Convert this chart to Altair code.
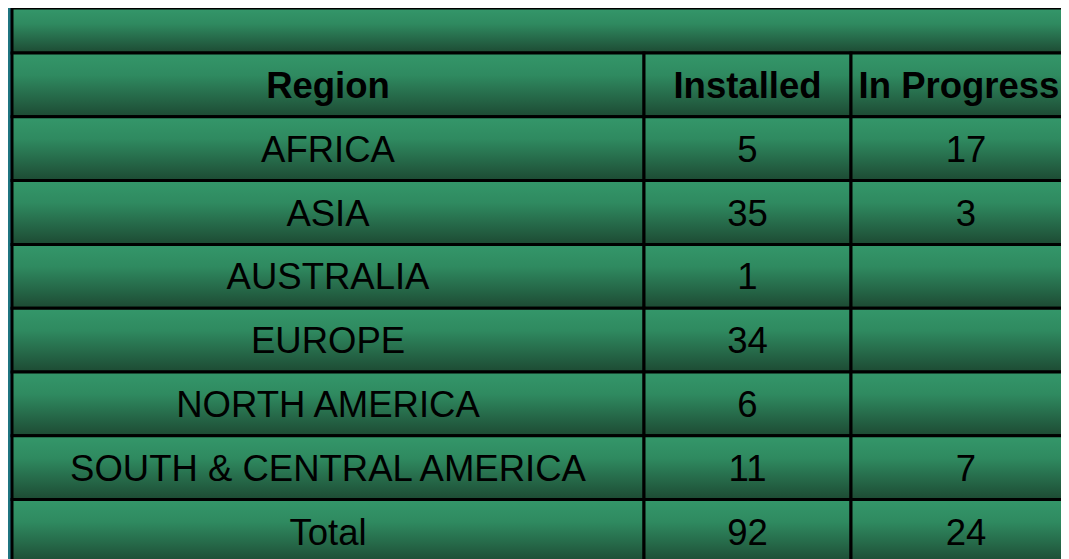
import altair as alt
import pandas as pd

# ---- table content ----
headers = ["Region", "Installed", "In Progress"]
regions = ["AFRICA", "ASIA", "AUSTRALIA", "EUROPE", "NORTH AMERICA",
           "SOUTH & CENTRAL AMERICA", "Total"]
installed = ["5", "35", "1", "34", "6", "11", "92"]
in_progress = ["17", "3", "", "", "", "7", "24"]

# ---- layout ----
W, H = 1053, 551
col_edges = [4, 636, 843, 1073]
title_h = 45
row_h = 63.8

cells = []
cells.append(dict(x=col_edges[0], x2=col_edges[-1], y=0, y2=title_h,
                  label="", weight="normal", shift=0))
rows = [headers] + [[r, i, p] for r, i, p in zip(regions, installed, in_progress)]
for ri, row in enumerate(rows):
    y0 = title_h + ri * row_h
    for ci, val in enumerate(row):
        cells.append(dict(x=col_edges[ci], x2=col_edges[ci + 1], y=y0,
                          y2=y0 + row_h, label=val,
                          weight="bold" if ri == 0 else "normal",
                          shift=-7 if (ri == 0 and ci == 2) else 0))
df = pd.DataFrame(cells)
df["xc"] = (df["x"] + df["x2"]) / 2 + df["shift"]
df["yc"] = (df["y"] + df["y2"]) / 2

xs = alt.Scale(domain=[0, W], nice=False, zero=False)
ys = alt.Scale(domain=[0, H], nice=False, zero=False, reverse=True)

grad = alt.Gradient(
    gradient="linear",
    stops=[alt.GradientStop(color="#34976a", offset=0),
           alt.GradientStop(color="#2f8a60", offset=0.35),
           alt.GradientStop(color="#1d4a33", offset=1)],
    x1=0, x2=0, y1=0, y2=1,
)

base = alt.Chart(df)

rects = base.mark_rect(fill=grad, stroke="black", strokeWidth=3).encode(
    x=alt.X("x:Q", scale=xs, axis=None),
    x2="x2:Q",
    y=alt.Y("y:Q", scale=ys, axis=None),
    y2="y2:Q",
)

text_normal = base.transform_filter(alt.datum.weight == "normal").mark_text(
    font="Liberation Sans", fontSize=36.5, color="black", baseline="middle",
    align="center", dy=2,
).encode(
    x=alt.X("xc:Q", scale=xs, axis=None),
    y=alt.Y("yc:Q", scale=ys, axis=None),
    text="label:N",
)

text_bold = base.transform_filter(alt.datum.weight == "bold").mark_text(
    font="Liberation Sans", fontSize=36.5, fontWeight="bold", color="black",
    baseline="middle", align="center", dy=2,
).encode(
    x=alt.X("xc:Q", scale=xs, axis=None),
    y=alt.Y("yc:Q", scale=ys, axis=None),
    text="label:N",
)

chart = alt.layer(rects, text_normal, text_bold).properties(
    width=W, height=H, padding=0, autosize=alt.AutoSizeParams(type="none"),
    background="#1f7480",
).configure_view(strokeWidth=0)

chart.save("out.html", embed_options={"renderer": "svg", "actions": False})
